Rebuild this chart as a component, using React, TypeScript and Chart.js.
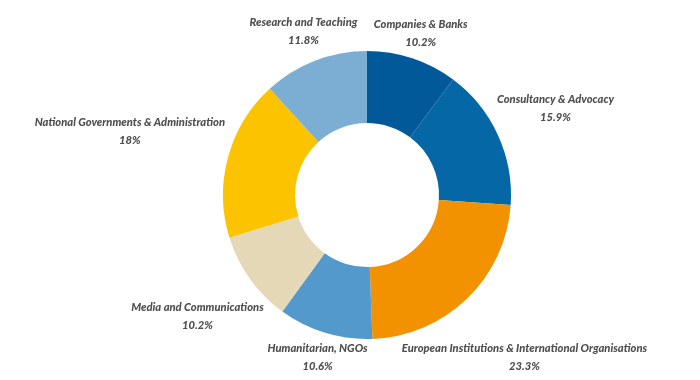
import React, { useEffect, useRef } from "react";
import { Chart, registerables } from "chart.js";

Chart.register(...registerables);

const categories = [
  "Companies & Banks",
  "Consultancy & Advocacy",
  "European Institutions & International Organisations",
  "Humanitarian, NGOs",
  "Media and Communications",
  "National Governments & Administration",
  "Research and Teaching",
];
const values = [10.2, 15.9, 23.3, 10.6, 10.2, 18, 11.8];
const valueLabels = ["10.2%", "15.9%", "23.3%", "10.6%", "10.2%", "18%", "11.8%"];
const colors = ["#02599a", "#0667a7", "#f29200", "#5399cb", "#e4d8b7", "#fbc300", "#7caed4"];

const FONT = "italic 900 11.2px Lato, 'Open Sans', sans-serif";

const outLabels = {
  id: "outLabels",
  afterDatasetsDraw(chart: any) {
    const ctx = chart.ctx as CanvasRenderingContext2D;
    const meta = chart.getDatasetMeta(0);
    ctx.save();
    ctx.font = FONT;
    ctx.fillStyle = "#4f4f4f";
    ctx.textAlign = "center";
    ctx.textBaseline = "middle";
    meta.data.forEach((arc: any, i: number) => {
      const p = arc.getProps(["x", "y", "startAngle", "endAngle", "outerRadius"], true);
      const mid = (p.startAngle + p.endAngle) / 2;
      const vx = Math.cos(mid);
      const vy = Math.sin(mid);
      const w = Math.max(ctx.measureText(categories[i]).width, ctx.measureText(valueLabels[i]).width);
      let d = p.outerRadius + 9 + Math.abs(vx) * w / 2 + Math.abs(vy) * 3;
      const maxY = chart.height - 22.5;
      if (vy > 0 && p.y + vy * d > maxY) d = (maxY - p.y) / vy;
      const cx = p.x + vx * d;
      const cy = p.y + vy * d;
      ctx.fillText(categories[i], cx, cy - 9);
      ctx.fillText(valueLabels[i], cx, cy + 9);
    });
    ctx.restore();
  },
};

export default function App() {
  const ref = useRef<HTMLCanvasElement | null>(null);
  useEffect(() => {
    if (!ref.current) return;
    const chart = new Chart(ref.current, {
      type: "doughnut",
      data: {
        labels: categories,
        datasets: [
          {
            data: values,
            backgroundColor: colors,
            borderWidth: 0,
          },
        ],
      },
      options: {
        animation: false,
        responsive: false,
        cutout: "50%",
        layout: { padding: { left: 223, right: 189, top: 51, bottom: 41 } },
        plugins: {
          legend: { display: false },
          tooltip: { enabled: false },
        },
      },
      plugins: [outLabels],
    });
    return () => chart.destroy();
  }, []);
  return (
    <div style={{ position: "fixed", left: 0, top: 0, width: 700, height: 380, background: "#ffffff" }}>
      <canvas ref={ref} width={700} height={380} style={{ width: 700, height: 380, display: "block" }} />
    </div>
  );
}
